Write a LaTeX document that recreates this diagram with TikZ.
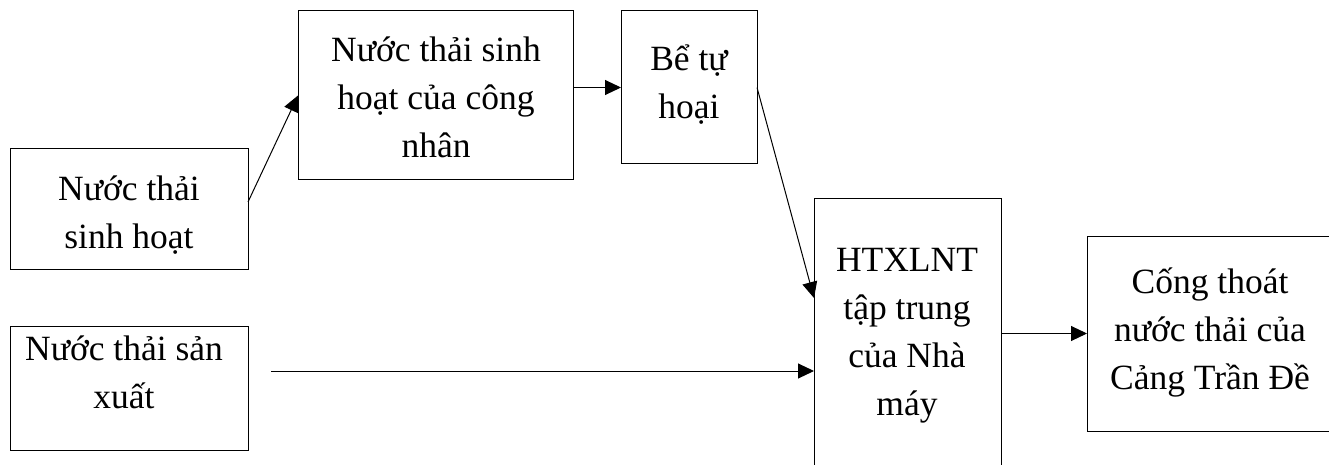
\documentclass[tikz,border=0pt]{standalone}
\usepackage{fontspec}
\setmainfont{Liberation Serif}
\usetikzlibrary{arrows.meta}
\begin{document}
\begin{tikzpicture}[x=1pt,y=-1pt,
  box/.style={draw, line width=1pt, inner sep=0pt, outer sep=0pt, rectangle},
  txt/.style={align=center, inner sep=0pt, font=\fontsize{35.5}{48}\selectfont},
  arr/.style={line width=1pt, -{Triangle[length=16pt,width=15pt]}},
  ln/.style={line width=1pt}]
\clip (0,0) rectangle (1329,465);
\fill[white] (0,0) rectangle (1329,465);
% boxes
\node[box, minimum width=238pt, minimum height=120pt] (a) at (129,209) {};
\node[box, minimum width=275pt, minimum height=169pt] (b) at (435.5,95.5) {};
\node[box, minimum width=136pt, minimum height=153pt] (c) at (689,87.5) {};
\node[box, minimum width=187pt, minimum height=276pt] (d) at (907.5,336) {};
\node[box, minimum width=253pt, minimum height=195pt] (e) at (1213.5,333.5) {};
\node[box, minimum width=238pt, minimum height=124pt] (f) at (129,388) {};
% texts
\node[txt] (ta) at (129,215) {Nước thải\\sinh hoạt};
\node[txt] (tb) at (436,97) {Nước thải sinh\\hoạt của công\\nhân};
\node[txt] (tc) at (689,85) {Bể tự\\hoại};
\node[txt] (td) at (907,336) {HTXLNT\\tập trung\\của Nhà\\máy};
\node[txt] (te) at (1210,332) {Cống thoát\\nước thải của\\Cảng Trần Đề};
\node[txt] (tf) at (124,372) {Nước thải sản\\xuất};
% connectors
\coordinate (fstart) at (271,371);
\draw[arr] ([yshift=7pt]a.east) -- (b.west);
\draw[arr] (b.east |- c.west) -- (c.west);
\draw[arr] (c.east) -- ([yshift=-100pt]d.north west);
\draw[arr] (fstart) -- (fstart -| d.west);
\draw[arr] (e.west -| d.east) -- (e.west);
\end{tikzpicture}
\end{document}
